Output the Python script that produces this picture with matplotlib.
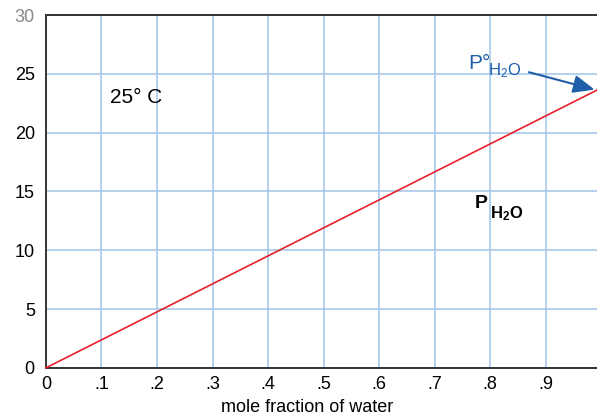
import matplotlib
matplotlib.use('Agg')
import matplotlib.pyplot as plt
import numpy as np

plt.rcParams['font.family'] = ['Liberation Sans', 'DejaVu Sans']
plt.rcParams['mathtext.fontset'] = 'custom'
plt.rcParams['mathtext.rm'] = 'Liberation Sans'
plt.rcParams['mathtext.it'] = 'Liberation Sans'
plt.rcParams['mathtext.bf'] = 'Liberation Sans:bold'

# mole fraction of water vs partial pressure (torr), Raoult's law at 25 C
x_frac = [0.0, 1.0]
p_water = [0.0, 23.8]
x_ticks = [0, 0.1, 0.2, 0.3, 0.4, 0.5, 0.6, 0.7, 0.8, 0.9, 1.0]
x_labels = ['0', '.1', '.2', '.3', '.4', '.5', '.6', '.7', '.8', '.9', '1']
y_ticks = [0, 5, 10, 15, 20, 25, 30]

GRID = '#a8c8e8'
BLUE = '#1f5fa8'

fig = plt.figure(figsize=(5.97, 4.18), dpi=100)
ax = fig.add_axes([0.077, 0.12, 0.93, 0.844])

ax.plot(x_frac, p_water, color='#e8202a', lw=1.2, zorder=3, clip_on=False)

ax.set_xlim(0, 1)
ax.set_ylim(0, 30)
ax.set_xticks(x_ticks)
ax.set_xticklabels(x_labels)
ax.set_yticks(y_ticks)
ax.grid(True, color=GRID, lw=1.2)
ax.set_axisbelow(True)
ax.tick_params(length=0, labelsize=13, pad=6)
ax.tick_params(axis='y', pad=8)
ax.get_yticklabels()[-1].set_color('#888888')
for s in ['left', 'bottom', 'top']:
    ax.spines[s].set_color('#333333')
    ax.spines[s].set_linewidth(1.4)
ax.spines['right'].set_visible(False)

ax.set_xlabel('mole fraction of water', fontsize=13, labelpad=6)
ax.xaxis.set_label_coords(0.47, -0.088)

ax.text(0.115, 22.5, '25° C', fontsize=15)

# P_H2O label (bold), subscript drawn as its own text
ax.text(0.773, 13.6, 'P', fontsize=14, fontweight='bold', va='baseline')
ax.annotate(r'H$_\mathbf{2}$O', xy=(0.773, 13.6), xytext=(10.8, -7.2),
            textcoords='offset points', fontsize=12, fontweight='bold',
            va='baseline')

# P° H2O label and arrow
ax.text(0.760, 25.4, 'P°', fontsize=15, color=BLUE, va='baseline')
ax.annotate(r'H$_\mathrm{2}$O', xy=(0.760, 25.4), xytext=(14.4, -4.3),
            textcoords='offset points', fontsize=12, color=BLUE,
            va='baseline')
ax.annotate('', xy=(0.993, 23.6), xytext=(0.865, 25.2),
            arrowprops=dict(arrowstyle='-|>,head_length=1.3,head_width=0.55',
                            color=BLUE, lw=1.5), annotation_clip=False)

fig.savefig('out.png', dpi=100)
